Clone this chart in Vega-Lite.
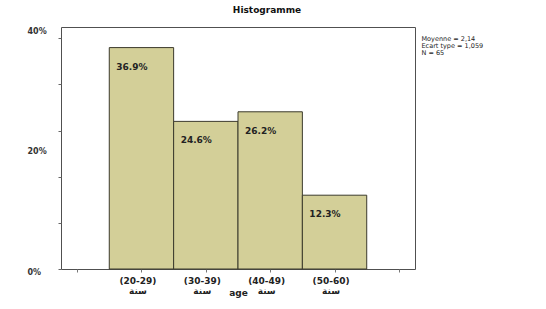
{
  "$schema": "https://vega.github.io/schema/vega-lite/v6.json",
  "width": 354,
  "height": 242,
  "autosize": {"type": "none"},
  "padding": {"left": 61, "top": 27, "right": 131, "bottom": 40},
  "background": "white",
  "title": {"text": "Histogramme", "anchor": "middle", "frame": "group", "dx": 29, "offset": 5, "baseline": "alphabetic", "font": "DejaVu Sans", "fontSize": 9, "fontWeight": "bold", "color": "#111"},
  "config": {"view": {"fill": "#efefef", "stroke": "#505050", "strokeWidth": 1}},
  "data": {"values": [
    {"age": "(20-29)", "bin_start": 0.5, "bin_end": 1.5, "count": 24, "pct": 36.9, "label": "36.9%"},
    {"age": "(30-39)", "bin_start": 1.5, "bin_end": 2.5, "count": 16, "pct": 24.6, "label": "24.6%"},
    {"age": "(40-49)", "bin_start": 2.5, "bin_end": 3.5, "count": 17, "pct": 26.2, "label": "26.2%"},
    {"age": "(50-60)", "bin_start": 3.5, "bin_end": 4.5, "count": 8, "pct": 12.3, "label": "12.3%"}
  ]},
  "resolve": {"axis": {"y": "independent"}},
  "layer": [
    {
      "mark": {"type": "rect", "fill": "#d3cf98", "stroke": "#3b3a2c", "strokeWidth": 1},
      "encoding": {
        "x": {"field": "bin_start", "type": "quantitative",
          "scale": {"domain": [-0.25, 5.25], "nice": false, "zero": false},
          "axis": {"title": "age", "values": [0, 1, 2, 3, 4, 5],
            "labelExpr": "datum.value == 1 ? ['(20-29)', 'سنة'] : datum.value == 2 ? ['(30-39)', 'سنة'] : datum.value == 3 ? ['(40-49)', 'سنة'] : datum.value == 4 ? ['(50-60)', 'سنة'] : ''",
            "grid": false, "domain": false, "tickSize": 3, "tickColor": "#777",
            "labelPadding": 4, "labelOffset": -4, "labelFont": "DejaVu Sans", "labelFontSize": 9, "labelFontWeight": "bold", "labelColor": "#222", "labelLineHeight": 10,
            "labelOverlap": false, "labelBound": false, "labelFlush": false,
            "titleFont": "DejaVu Sans", "titleFontSize": 9, "titleFontWeight": "bold", "titleColor": "#222", "titleY": 23, "titleBaseline": "middle"}},
        "x2": {"field": "bin_end"},
        "y": {"field": "pct", "type": "quantitative",
          "scale": {"domain": [0, 40.33], "nice": false},
          "axis": {"title": null, "orient": "left", "values": [0, 7.692, 15.385, 23.077, 30.769, 38.462],
            "labels": false, "tickSize": 3, "tickColor": "#666", "tickWidth": 1,
            "domain": false, "grid": false}}
      }
    },
    {
      "mark": {"type": "text", "align": "left", "dx": 7, "dy": 19, "baseline": "middle", "font": "DejaVu Sans", "fontSize": 9, "fontWeight": "bold", "fill": "#222"},
      "encoding": {
        "x": {"field": "bin_start", "type": "quantitative"},
        "y": {"field": "pct", "type": "quantitative",
          "axis": {"title": null, "orient": "left", "values": [0, 20, 40], "format": ".0f",
            "labelExpr": "datum.label + '%'",
            "ticks": false, "labelAlign": "left", "labelPadding": 34, "labelOffset": 3,
            "labelFont": "DejaVu Sans", "labelFontSize": 8, "labelFontWeight": "bold", "labelColor": "#333",
            "domain": false, "grid": false, "labelOverlap": false, "labelBound": false, "labelFlush": false}},
        "text": {"field": "label"}
      }
    },
    {
      "data": {"values": [{"stat": "Moyenne = 2,14"}, {"stat": "Ecart type = 1,059"}, {"stat": "N = 65"}]},
      "mark": {"type": "point", "opacity": 0},
      "encoding": {
        "color": {"field": "stat", "type": "nominal",
          "scale": {"domain": ["Moyenne = 2,14", "Ecart type = 1,059", "N = 65"], "range": ["#000000", "#000000", "#000000"]},
          "legend": {"orient": "none", "legendX": 354, "legendY": 9, "title": null, "symbolSize": 0, "symbolOpacity": 0, "symbolStrokeWidth": 0, "labelOffset": 0, "rowPadding": 0, "padding": 0, "labelFont": "DejaVu Sans", "labelFontSize": 6.5, "labelColor": "#222"}}
      }
    }
  ]
}
